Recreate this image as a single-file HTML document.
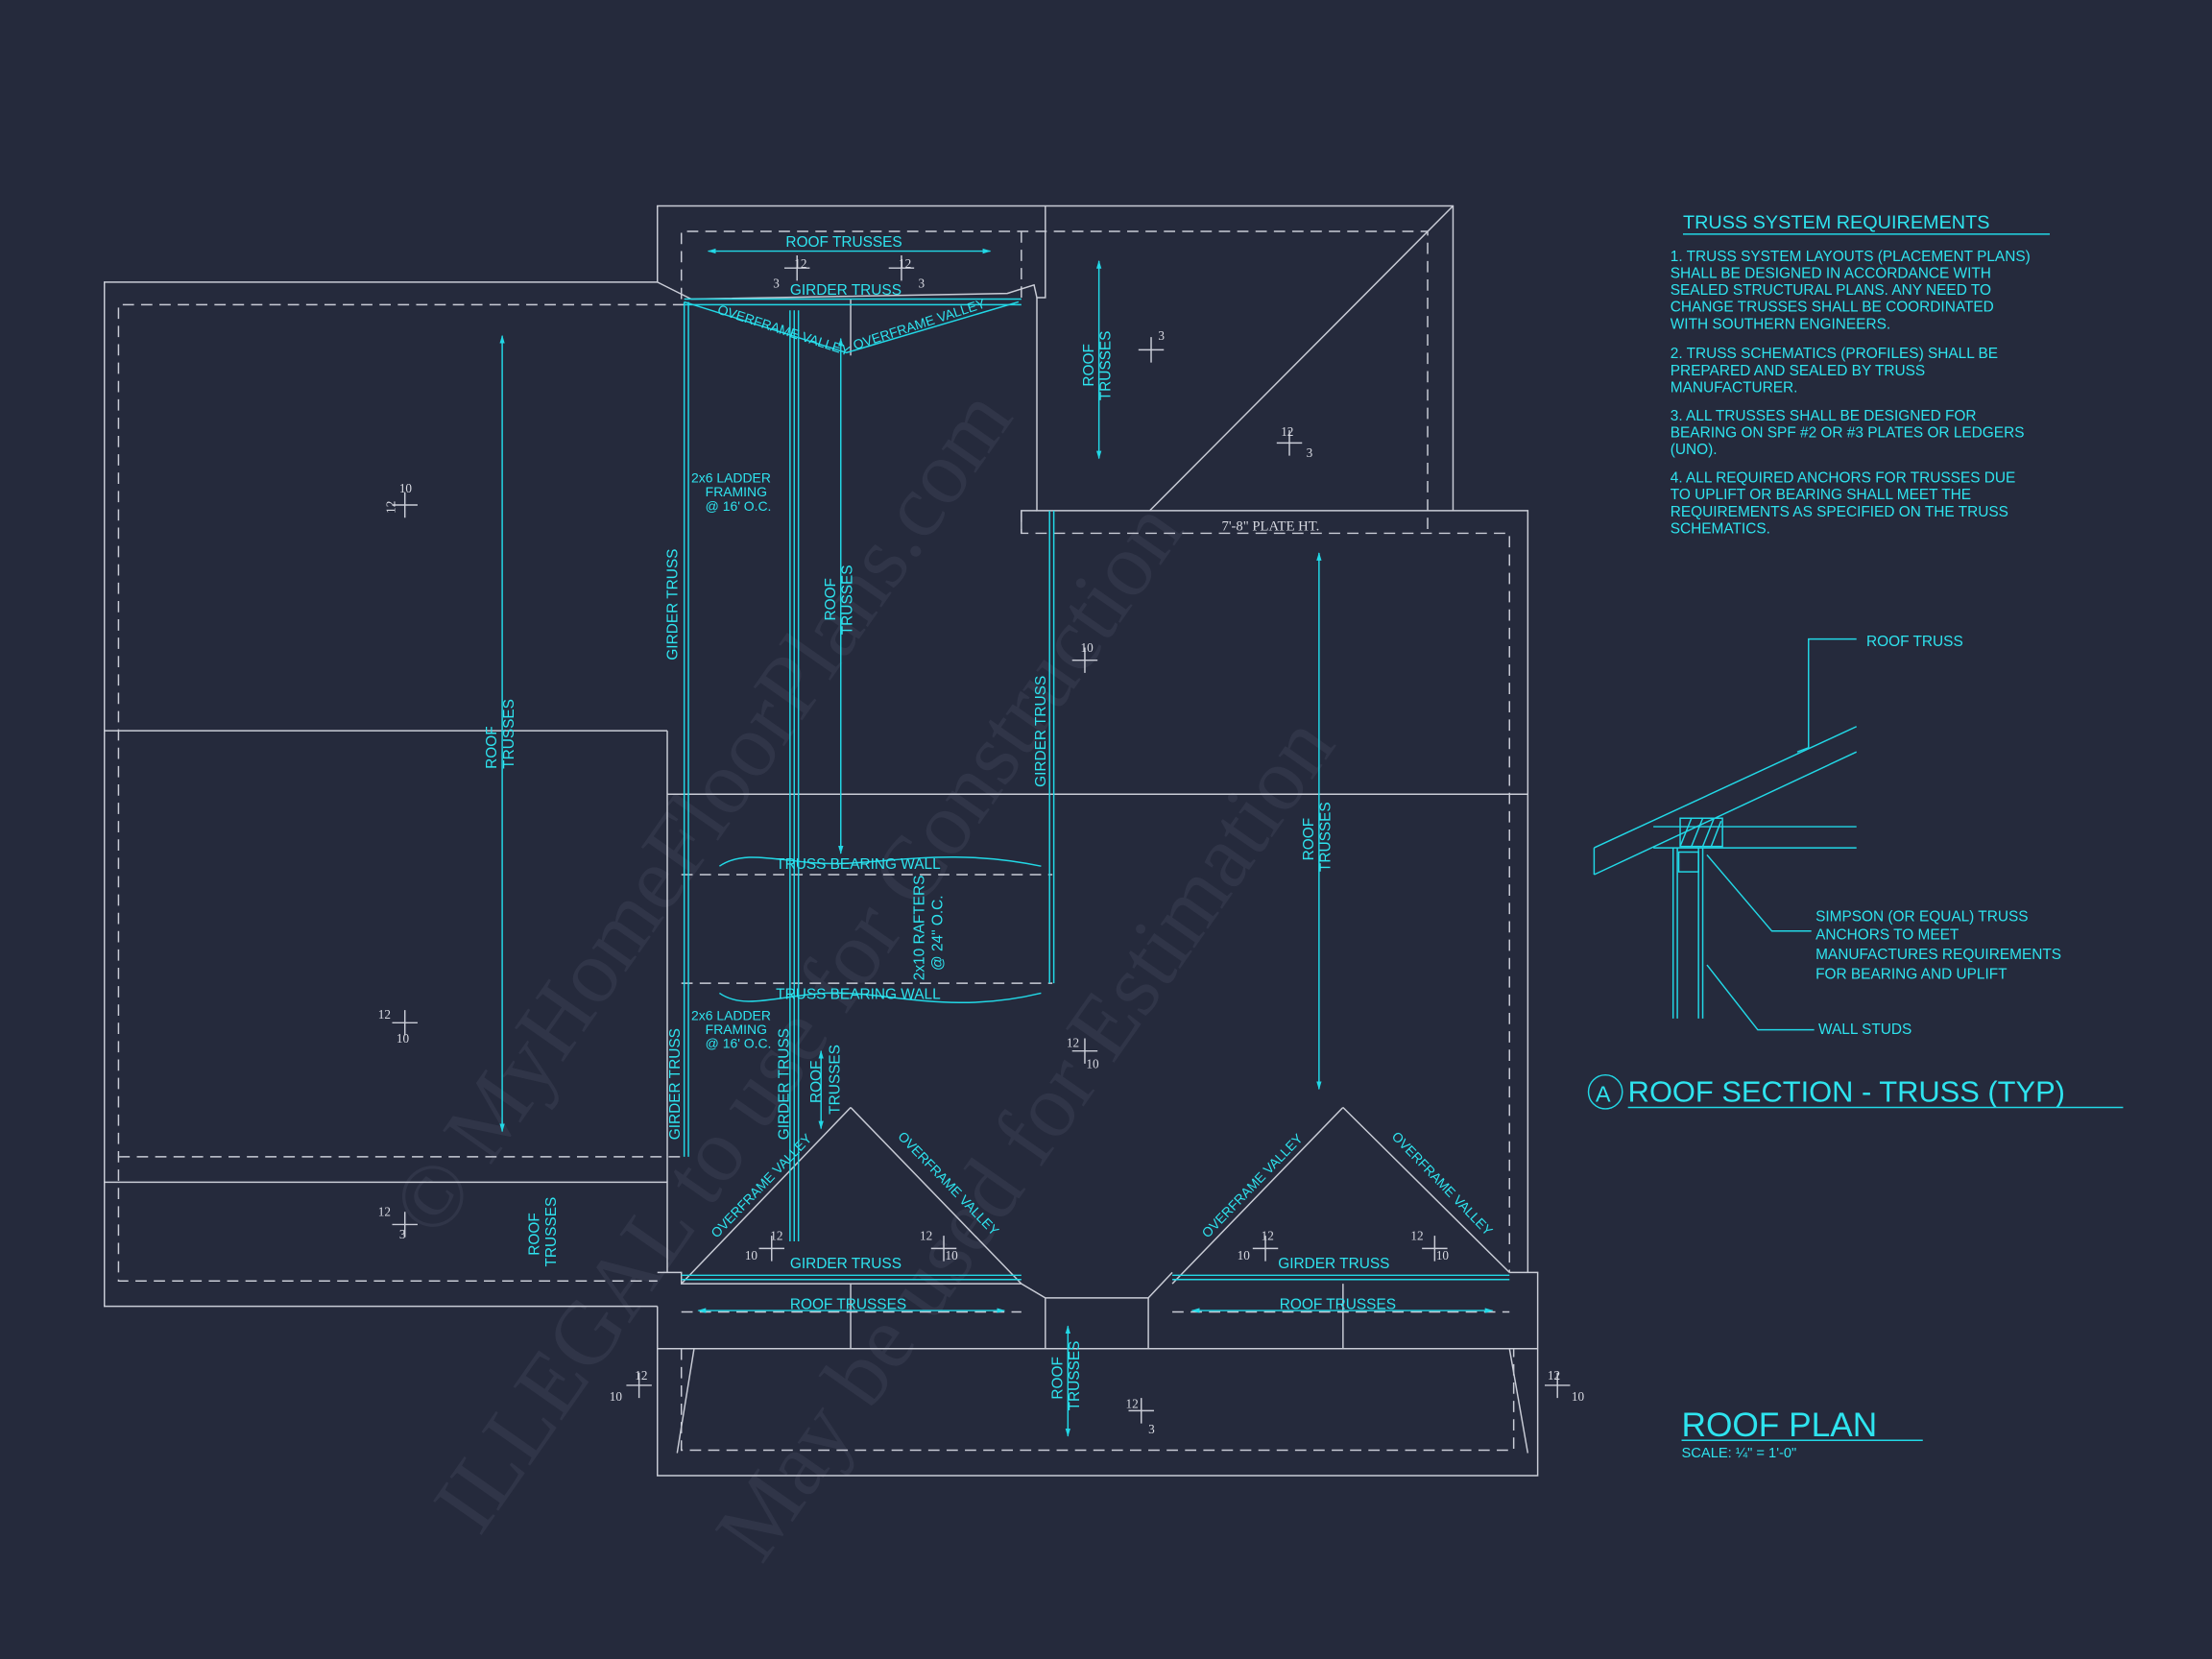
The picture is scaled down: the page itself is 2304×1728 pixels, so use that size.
<!DOCTYPE html>
<html><head><meta charset="utf-8"><style>
html,body{margin:0;padding:0;background:#252a3c;}
svg{display:block}
.w{stroke:#c9ccd6;stroke-width:1;fill:none}
.d{stroke:#c9ccd6;stroke-width:1;fill:none;stroke-dasharray:8 5}
.c{stroke:#22d8e6;stroke-width:1;fill:none}
.t{fill:#2ee4ef;font-family:"Liberation Sans",sans-serif;font-size:10.5px}
.s{fill:#d8dae2;font-family:"Liberation Serif",serif;font-size:9px}
.wm{fill:#3a3f52;font-family:"Liberation Serif",serif;font-size:64px}
</style></head><body>
<svg width="2304" height="1728" viewBox="0 0 1568 1176" xmlns="http://www.w3.org/2000/svg">
<defs><marker id="a" viewBox="0 0 10 10" refX="9" refY="5" markerWidth="6" markerHeight="6" orient="auto-start-reverse"><path d="M0,2 L10,5 L0,8 z" fill="#22d8e6"/></marker></defs>
<rect width="1568" height="1176" fill="#252a3c"/>
<g opacity="0.55">
<text class="wm" transform="translate(310,880) rotate(-55)">© MyHomeFloorPlans.com</text>
<text class="wm" transform="translate(340,1090) rotate(-55)">ILLEGAL to use for Construction</text>
<text class="wm" transform="translate(540,1110) rotate(-55)">May be used for Estimation</text>
</g>
<g class="w">
<polyline points="466,200 74,200 74,926 466,926"/>
<line x1="466" y1="200" x2="490" y2="212"/>
<polyline points="466,200 466,146 1030,146 1030,362"/>
<polyline points="741,146 741,211 735,211"/>
<polyline points="490,212 714,208 733,202 735,211"/>
<polyline points="735,211 735,362 1083,362 1083,902"/>
<polyline points="735,362 724,362 724,378"/>
<line x1="1030" y1="146" x2="815" y2="362"/>
<line x1="74" y1="518" x2="473" y2="518"/>
<line x1="473" y1="518" x2="473" y2="902"/>
<line x1="473" y1="563" x2="1083" y2="563"/>
<line x1="74" y1="838" x2="473" y2="838"/>
<polyline points="466,926 466,1046 1090,1046 1090,902 1070,902"/>
<polyline points="466,902 483,902 483,910 724,910 741,920 814,920 831,902"/>
<line x1="741" y1="920" x2="741" y2="956"/>
<line x1="814" y1="920" x2="814" y2="956"/>
<line x1="466" y1="956" x2="1090" y2="956"/>
<line x1="492" y1="956" x2="480" y2="1030"/>
<line x1="1070" y1="956" x2="1083" y2="1030"/>
<line x1="603" y1="910" x2="603" y2="956"/>
<line x1="952" y1="910" x2="952" y2="956"/>
<line x1="603" y1="785" x2="483" y2="910"/>
<line x1="603" y1="785" x2="724" y2="910"/>
<line x1="952" y1="785" x2="831" y2="910"/>
<line x1="952" y1="785" x2="1070" y2="902"/>
<line x1="603" y1="212" x2="603" y2="252"/>
</g>
<g class="d">
<polyline points="483,212 483,164 1012,164 1012,378"/>
<line x1="724" y1="164" x2="724" y2="212"/>
<polyline points="724,362 724,378 1070,378 1070,902"/>
<polyline points="485,216 84,216 84,908 466,908"/>
<line x1="84" y1="820" x2="483" y2="820"/>
<polyline points="483,956 483,1028 1073,1028 1073,956"/>
<line x1="483" y1="620" x2="746" y2="620"/>
<line x1="483" y1="697" x2="746" y2="697"/>
<line x1="483" y1="930" x2="724" y2="930"/>
<line x1="831" y1="930" x2="1070" y2="930"/>
</g>
<g class="c">
<line x1="485" y1="212" x2="724" y2="212"/><line x1="485" y1="216" x2="724" y2="216"/>
<line x1="483" y1="904" x2="724" y2="904"/><line x1="483" y1="907" x2="724" y2="907"/>
<line x1="831" y1="904" x2="1070" y2="904"/><line x1="831" y1="907" x2="1070" y2="907"/>
<line x1="485" y1="214" x2="485" y2="820"/><line x1="488" y1="214" x2="488" y2="820"/>
<line x1="560" y1="220" x2="560" y2="880"/><line x1="563" y1="220" x2="563" y2="880"/><line x1="566" y1="220" x2="566" y2="880"/>
<line x1="744" y1="362" x2="744" y2="697"/><line x1="747" y1="362" x2="747" y2="697"/>
<polyline points="485,214 600,250 722,214"/>
<g marker-start="url(#a)" marker-end="url(#a)">
<line x1="356" y1="238" x2="356" y2="802"/>
<line x1="596" y1="240" x2="596" y2="605"/>
<line x1="779" y1="185" x2="779" y2="325"/>
<line x1="935" y1="392" x2="935" y2="772"/>
<line x1="582" y1="745" x2="582" y2="800"/>
<line x1="757" y1="940" x2="757" y2="1018"/>
<line x1="502" y1="178" x2="702" y2="178"/>
<line x1="495" y1="929" x2="712" y2="929"/>
<line x1="845" y1="929" x2="1058" y2="929"/>
</g>
<path d="M510,614 C530,600 560,614 600,612 C640,610 680,602 738,614"/>
<path d="M510,704 C530,718 560,702 600,704 C640,706 680,718 738,704"/>
</g>
<g class="w">
<path d="M278,358 h18 M287,349 v18"/><path d="M278,725 h18 M287,716 v18"/><path d="M278,868 h18 M287,859 v18"/>
<path d="M760,468 h18 M769,459 v18"/><path d="M760,745 h18 M769,736 v18"/><path d="M807,248 h18 M816,239 v18"/>
<path d="M905,314 h18 M914,305 v18"/><path d="M800,1000 h18 M809,991 v18"/><path d="M556,190 h18 M565,181 v18"/>
<path d="M630,190 h18 M639,181 v18"/><path d="M538,885 h18 M547,876 v18"/><path d="M660,885 h18 M669,876 v18"/>
<path d="M888,885 h18 M897,876 v18"/><path d="M1008,885 h18 M1017,876 v18"/><path d="M444,982 h18 M453,973 v18"/><path d="M1095,982 h18 M1104,973 v18"/>
</g>
<g class="s">
<text x="563" y="190">12</text><text x="548" y="204">3</text><text x="637" y="190">12</text><text x="651" y="204">3</text>
<text x="283" y="349">10</text><text x="270" y="366" transform="rotate(-90 274 360)">12</text>
<text x="766" y="462">10</text><text x="866" y="376" font-size="10">7'-8" PLATE HT.</text>
<text x="821" y="241">3</text><text x="908" y="309">12</text><text x="926" y="324">3</text>
<text x="268" y="722">12</text><text x="281" y="739">10</text><text x="268" y="862">12</text><text x="283" y="878">3</text>
<text x="756" y="742">12</text><text x="770" y="757">10</text><text x="798" y="998">12</text><text x="814" y="1016">3</text>
<text x="546" y="879">12</text><text x="528" y="893">10</text><text x="652" y="879">12</text><text x="670" y="893">10</text>
<text x="894" y="879">12</text><text x="877" y="893">10</text><text x="1000" y="879">12</text><text x="1018" y="893">10</text>
<text x="450" y="978">12</text><text x="432" y="993">10</text><text x="1097" y="978">12</text><text x="1114" y="993">10</text>
</g>
<g class="t">
<text x="557" y="175">ROOF TRUSSES</text>
<text x="560" y="209">GIRDER TRUSS</text>
<text transform="translate(508,222) rotate(18)" font-size="9.5">OVERFRAME VALLEY</text>
<text transform="translate(606,248) rotate(-18)" font-size="9.5">OVERFRAME VALLEY</text>
<text x="490" y="342" font-size="9.5">2x6 LADDER</text><text x="500" y="352" font-size="9.5">FRAMING</text><text x="500" y="362" font-size="9.5">@ 16' O.C.</text>
<text x="490" y="723" font-size="9.5">2x6 LADDER</text><text x="500" y="733" font-size="9.5">FRAMING</text><text x="500" y="743" font-size="9.5">@ 16' O.C.</text>
<text transform="translate(480,468) rotate(-90)">GIRDER TRUSS</text>
<text transform="translate(482,808) rotate(-90)">GIRDER TRUSS</text>
<text transform="translate(559,808) rotate(-90)">GIRDER TRUSS</text>
<text transform="translate(741,558) rotate(-90)">GIRDER TRUSS</text>
<text transform="translate(352,545) rotate(-90)">ROOF</text><text transform="translate(364,545) rotate(-90)">TRUSSES</text>
<text transform="translate(592,440) rotate(-90)">ROOF</text><text transform="translate(604,450) rotate(-90)">TRUSSES</text>
<text transform="translate(775,274) rotate(-90)">ROOF</text><text transform="translate(787,284) rotate(-90)">TRUSSES</text>
<text transform="translate(931,610) rotate(-90)">ROOF</text><text transform="translate(943,618) rotate(-90)">TRUSSES</text>
<text transform="translate(582,782) rotate(-90)">ROOF</text><text transform="translate(595,790) rotate(-90)">TRUSSES</text>
<text transform="translate(382,890) rotate(-90)">ROOF</text><text transform="translate(394,898) rotate(-90)">TRUSSES</text>
<text transform="translate(753,992) rotate(-90)">ROOF</text><text transform="translate(765,1000) rotate(-90)">TRUSSES</text>
<text transform="translate(655,695) rotate(-90)">2x10 RAFTERS</text><text transform="translate(668,688) rotate(-90)">@ 24" O.C.</text>
<text x="550" y="616">TRUSS BEARING WALL</text>
<text x="550" y="708">TRUSS BEARING WALL</text>
<text transform="translate(508,878) rotate(-46)" font-size="9.5">OVERFRAME VALLEY</text>
<text transform="translate(636,806) rotate(46)" font-size="9.5">OVERFRAME VALLEY</text>
<text transform="translate(856,878) rotate(-46)" font-size="9.5">OVERFRAME VALLEY</text>
<text transform="translate(986,806) rotate(46)" font-size="9.5">OVERFRAME VALLEY</text>
<text x="560" y="899">GIRDER TRUSS</text><text x="906" y="899">GIRDER TRUSS</text>
<text x="560" y="928">ROOF TRUSSES</text><text x="907" y="928">ROOF TRUSSES</text>
<text x="1193" y="162" font-size="13.5">TRUSS SYSTEM REQUIREMENTS</text>
<text x="1184" y="185">1. TRUSS SYSTEM LAYOUTS (PLACEMENT PLANS)</text>
<text x="1184" y="197">SHALL BE DESIGNED IN ACCORDANCE WITH</text>
<text x="1184" y="209">SEALED STRUCTURAL PLANS. ANY NEED TO</text>
<text x="1184" y="221">CHANGE TRUSSES SHALL BE COORDINATED</text>
<text x="1184" y="233">WITH SOUTHERN ENGINEERS.</text>
<text x="1184" y="254">2. TRUSS SCHEMATICS (PROFILES) SHALL BE</text>
<text x="1184" y="266">PREPARED AND SEALED BY TRUSS</text>
<text x="1184" y="278">MANUFACTURER.</text>
<text x="1184" y="298">3. ALL TRUSSES SHALL BE DESIGNED FOR</text>
<text x="1184" y="310">BEARING ON SPF #2 OR #3 PLATES OR LEDGERS</text>
<text x="1184" y="322">(UNO).</text>
<text x="1184" y="342">4. ALL REQUIRED ANCHORS FOR TRUSSES DUE</text>
<text x="1184" y="354">TO UPLIFT OR BEARING SHALL MEET THE</text>
<text x="1184" y="366">REQUIREMENTS AS SPECIFIED ON THE TRUSS</text>
<text x="1184" y="378">SCHEMATICS.</text>
<text x="1323" y="458">ROOF TRUSS</text>
<text x="1287" y="653">SIMPSON (OR EQUAL) TRUSS</text>
<text x="1287" y="666">ANCHORS TO MEET</text>
<text x="1287" y="680">MANUFACTURES REQUIREMENTS</text>
<text x="1287" y="694">FOR BEARING AND UPLIFT</text>
<text x="1289" y="733">WALL STUDS</text>
<text x="1154" y="781" font-size="21">ROOF SECTION - TRUSS (TYP)</text>
<text x="1131" y="781" font-size="16">A</text>
<text x="1192" y="1018" font-size="24">ROOF PLAN</text>
<text x="1192" y="1033" font-size="10">SCALE: ¼" = 1'-0"</text>
</g>
<g class="c">
<line x1="1193" y1="166" x2="1453" y2="166"/>
<line x1="1154" y1="785" x2="1505" y2="785"/>
<circle cx="1138" cy="774" r="12"/>
<line x1="1192" y1="1021" x2="1363" y2="1021"/>
<polyline points="1316,453 1282,453 1282,530 1274,533"/>
<line x1="1130" y1="601" x2="1316" y2="515"/>
<line x1="1130" y1="620" x2="1316" y2="533"/>
<line x1="1130" y1="601" x2="1130" y2="620"/>
<line x1="1172" y1="586" x2="1316" y2="586"/>
<line x1="1172" y1="601" x2="1316" y2="601"/>
<rect x="1191" y="580" width="30" height="20"/>
<path d="M1191,600 l8,-20 M1199,600 l8,-20 M1207,600 l8,-20 M1213,600 l7,-18"/>
<line x1="1186" y1="601" x2="1186" y2="722"/><line x1="1189" y1="601" x2="1189" y2="722"/>
<line x1="1204" y1="601" x2="1204" y2="722"/><line x1="1207" y1="601" x2="1207" y2="722"/>
<rect x="1190" y="604" width="14" height="14"/>
<polyline points="1284,660 1256,660 1210,606"/>
<polyline points="1286,730 1246,730 1210,684"/>
</g>
</svg>
</body></html>
